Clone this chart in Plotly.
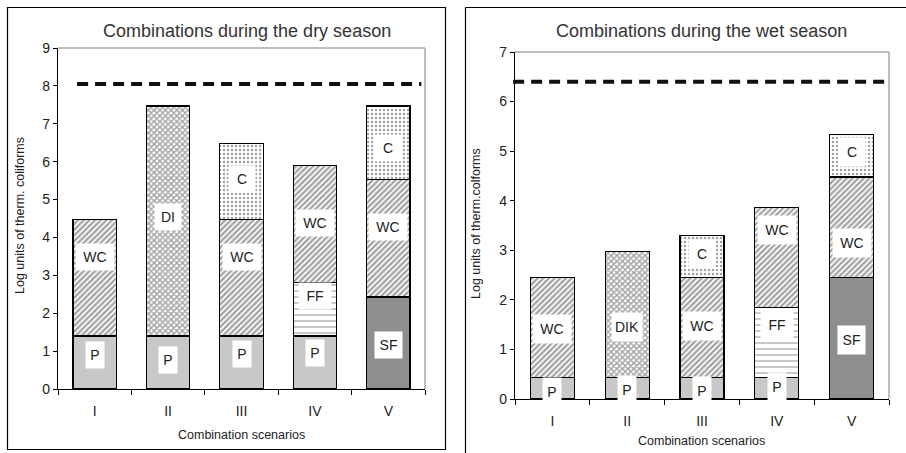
import plotly.graph_objects as go

W, H = 906, 453

scenarios = ["I", "II", "III", "IV", "V"]

# Dry season: stacked segments (log units)
dry_base = [1.40, 1.40, 1.40, 1.40, 2.43]
dry_base_comp = ["P", "P", "P", "P", "SF"]
dry_mid = [3.07, 6.07, 3.07, 1.42, 3.09]
dry_mid_comp = ["WC", "DI", "WC", "FF", "WC"]
dry_top = [0.0, 0.0, 2.00, 3.08, 1.95]
dry_top_comp = ["", "", "C", "WC", "C"]
dry_limit = 8.05

# Wet season
wet_base = [0.43, 0.43, 0.43, 0.43, 2.45]
wet_base_comp = ["P", "P", "P", "P", "SF"]
wet_mid = [2.02, 2.55, 2.02, 1.41, 2.03]
wet_mid_comp = ["WC", "DIK", "WC", "FF", "WC"]
wet_top = [0.0, 0.0, 0.85, 2.03, 0.85]
wet_top_comp = ["", "", "C", "WC", "C"]
wet_limit = 6.4

# label y-positions (layout only)
dry_label_y = {"base": [0.90, 0.77, 0.92, 0.96, 1.16],
               "mid": [3.49, 4.55, 3.49, 2.45, 4.27],
               "top": [None, None, 5.53, 4.38, 6.35]}
wet_label_y = {"base": [0.14, 0.18, 0.17, 0.25, 1.19],
               "mid": [1.42, 1.45, 1.48, 1.49, 3.15],
               "top": [None, None, 2.92, 3.41, 4.99]}

STYLE = {
    "P":   dict(color="#c8c8c8", shape="", size=6, sol=0.2),
    "SF":  dict(color="#8e8e8e", shape="", size=6, sol=0.2),
    "WC":  dict(color="white", shape="/", size=4, sol=0.55),
    "DI":  dict(color="white", shape="x", size=4, sol=0.6),
    "DIK": dict(color="white", shape="x", size=4, sol=0.6),
    "FF":  dict(color="white", shape="-", size=6, sol=0.2),
    "C":   dict(color="white", shape=".", size=4, sol=0.3),
    "":    dict(color="white", shape="", size=6, sol=0.2),
}
LABEL_W = {"P": 18, "SF": 27, "WC": 38, "DI": 26, "DIK": 30, "FF": 32, "C": 26}

FONT = "Liberation Sans, Arial, sans-serif"

fig = go.Figure()


def add_stack(xa, ya, layers):
    for vals, comps in layers:
        fig.add_trace(go.Bar(
            x=scenarios, y=vals, xaxis=xa, yaxis=ya, showlegend=False,
            marker=dict(
                color=[STYLE[c]["color"] for c in comps],
                line=dict(color="black", width=1.2),
                pattern=dict(
                    shape=[STYLE[c]["shape"] for c in comps],
                    size=[STYLE[c]["size"] for c in comps],
                    solidity=[STYLE[c]["sol"] for c in comps],
                    fgcolor="#222222", bgcolor="white", fillmode="overlay"),
            ),
            hoverinfo="skip",
        ))


add_stack("x", "y", [(dry_base, dry_base_comp), (dry_mid, dry_mid_comp), (dry_top, dry_top_comp)])
add_stack("x2", "y2", [(wet_base, wet_base_comp), (wet_mid, wet_mid_comp), (wet_top, wet_top_comp)])

annotations = []


def add_labels(xa, ya, comps_list, ys_list, h):
    for comps, ys in zip(comps_list, ys_list):
        for s, c, yv in zip(scenarios, comps, ys):
            if not c or yv is None:
                continue
            annotations.append(dict(
                x=s, y=yv, xref=xa, yref=ya, text=c, showarrow=False,
                xanchor="center", yanchor="middle",
                bgcolor="white", width=LABEL_W[c], height=h, borderpad=0,
                font=dict(family=FONT, size=14, color="#222")))


add_labels("x", "y", [dry_base_comp, dry_mid_comp, dry_top_comp],
           [dry_label_y["base"], dry_label_y["mid"], dry_label_y["top"]], 26)
add_labels("x2", "y2", [wet_base_comp, wet_mid_comp, wet_top_comp],
           [wet_label_y["base"], wet_label_y["mid"], wet_label_y["top"]], 28)


def px(x):
    return x / W


def py(y):
    return 1 - y / H


def paper_text(x, y, text, size, color="#222", angle=0):
    return dict(x=px(x), y=py(y), xref="paper", yref="paper", text=text, textangle=angle,
                xanchor="center", yanchor="middle", showarrow=False,
                font=dict(family=FONT, size=size, color=color))


# titles and axis titles
annotations += [
    paper_text(247, 31, "Combinations during the dry season", 18, "#333"),
    paper_text(701, 31, "Combinations during the wet season", 18, "#333"),
    paper_text(241.5, 435, "Combination scenarios", 12.5),
    paper_text(701, 440.5, "Combination scenarios", 12.5),
    paper_text(20, 216, "Log units of therm. coliforms", 12.5, angle=-90),
    paper_text(476, 224, "Log units of therm.colforms", 12.5, angle=-90),
]

BORDER = dict(color="black", width=1.2)
shapes = [
    # panel borders
    dict(type="rect", xref="paper", yref="paper", x0=px(7.5), x1=px(445.5), y0=py(449.5), y1=py(7.5),
         line=BORDER),
    dict(type="line", xref="paper", yref="paper", x0=px(465.5), x1=px(465.5), y0=0, y1=py(7.5), line=BORDER),
    dict(type="line", xref="paper", yref="paper", x0=px(465.5), x1=1, y0=py(7.5), y1=py(7.5), line=BORDER),
    # gray frame top/right of plot areas
    dict(type="line", xref="x domain", yref="y domain", x0=0, x1=1, y0=1, y1=1, line=dict(color="#a8a8a8", width=1.5)),
    dict(type="line", xref="x domain", yref="y domain", x0=1, x1=1, y0=0, y1=1, line=dict(color="#a8a8a8", width=1.5)),
    dict(type="line", xref="x2 domain", yref="y2 domain", x0=0, x1=1, y0=1, y1=1, line=dict(color="#a8a8a8", width=1.5)),
    dict(type="line", xref="x2 domain", yref="y2 domain", x0=1, x1=1, y0=0, y1=1, line=dict(color="#a8a8a8", width=1.5)),
    # limit lines
    dict(type="line", xref="x domain", yref="y", x0=0.052, x1=0.99, y0=dry_limit, y1=dry_limit,
         line=dict(color="#111", width=4, dash="11px,7px")),
    dict(type="line", xref="x2 domain", yref="y2", x0=-0.005, x1=1.0, y0=wet_limit, y1=wet_limit,
         line=dict(color="#111", width=4, dash="11px,7px")),
]

xcommon = dict(type="category", tickson="boundaries", ticks="outside", ticklen=5, tickcolor="black",
               showline=True, linecolor="black", linewidth=1.2, showgrid=False, zeroline=False,
               automargin=False,
               tickfont=dict(family=FONT, size=14, color="#222"), ticklabelstandoff=9, fixedrange=True)
ycommon = dict(ticks="outside", ticklen=4, tickcolor="black", showline=True, linecolor="black",
               linewidth=1.2, showgrid=False, zeroline=False, dtick=1, automargin=False,
               tickfont=dict(family=FONT, size=14, color="#222"), fixedrange=True)

fig.update_layout(
    width=W, height=H, margin=dict(l=0, r=0, t=0, b=0, pad=0, autoexpand=False),
    paper_bgcolor="white", plot_bgcolor="white",
    barmode="stack", bargap=0.41,
    xaxis=dict(domain=[px(58), px(425)], anchor="y", **xcommon),
    yaxis=dict(domain=[py(389), py(48)], anchor="x", range=[0, 9], **ycommon),
    xaxis2=dict(domain=[px(515), px(889)], anchor="y2", **xcommon),
    yaxis2=dict(domain=[py(399), py(52)], anchor="x2", range=[0, 7], **ycommon),
    annotations=annotations, shapes=shapes,
)

fig.write_html("out.html", config={"displayModeBar": False},
               post_script="document.body.style.margin='0';document.body.style.overflow='hidden';")
